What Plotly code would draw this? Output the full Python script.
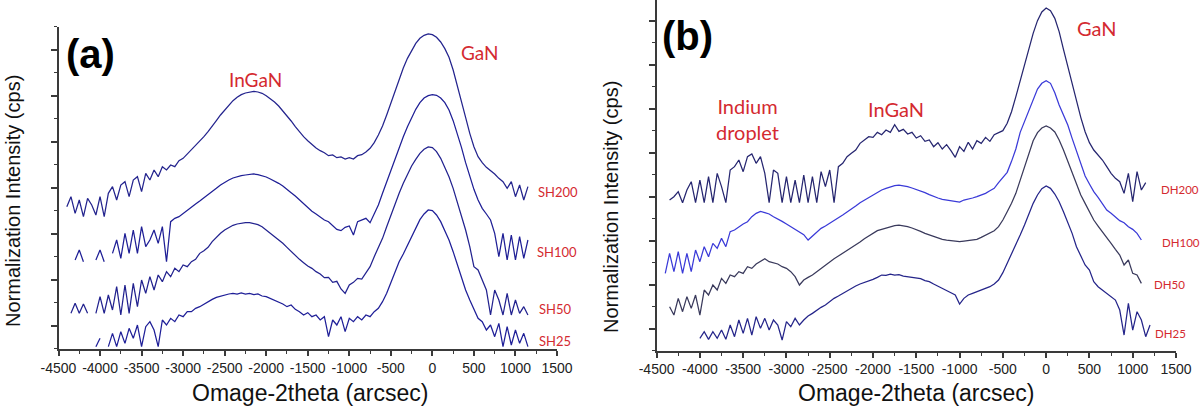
import plotly.graph_objects as go

# ---------------- data (arbitrary normalized intensity units, curves offset) ----------------
X_A = list(range(-4400, 1151, 50))   # omega-2theta grid, panel (a)
X_B = list(range(-4400, 1201, 50))   # omega-2theta grid, panel (b)

X_TICKS = [-4500, -4000, -3500, -3000, -2500, -2000, -1500, -1000, -500, 0, 500, 1000, 1500]
X_TICK_TEXT = ["-4500", "-4000", "-3500", "-3000", "-2500", "-2000", "-1500", "-1000",
               "-500", "0", "500", "1000", "1500"]

N = None

SH200 = [427, 457, 407, 447, 397, 452, 432, 402, 457, 397,
         467, 487, 447, 492, 502, 457, 507, 517, 472, 527,
         507, 537, 517, 547, 537, 552, 547, 565, 572, 585,
         597, 610, 622, 637, 652, 667, 685, 702, 717, 732,
         745, 755, 763, 768, 771, 773, 771, 767, 760, 751,
         741, 729, 715, 700, 684, 667, 651, 637, 625, 613,
         603, 595, 589, 580, 582, 574, 576, 570, 574, 570,
         580, 583, 591, 602, 619, 642, 669, 702, 737, 775,
         811, 843, 872, 897, 917, 932, 941, 945, 943, 935,
         921, 901, 875, 837, 792, 742, 695, 647, 607, 577,
         559, 545, 535, 525, 512, 502, 482, 502, 457, 492,
         447, 487]

SH100 = [N, N, 267, 297, 262, N, N, 267, 297, 262,
         N, 287, 327, 272, 347, 287, 357, 287, 367, 307,
         327, 357, 317, 367, 262, 382, 392, 397, 407, 417,
         425, 435, 444, 453, 462, 472, 482, 492, 500, 507,
         513, 517, 520, 522, 524, 525, 523, 520, 516, 510,
         504, 497, 489, 480, 469, 459, 447, 435, 425, 413,
         405, 395, 387, 382, 371, 359, 355, 365, 369, 342,
         382, 387, 392, 379, 407, 432, 467, 502, 537, 572,
         605, 637, 667, 695, 719, 739, 753, 760, 763, 761,
         753, 739, 717, 685, 647, 605, 559, 517, 479, 447,
         422, 405, 387, 347, 277, 347, 267, 342, 267, 337,
         272, 327, 277]

SH50 = [N, 107, 137, 107, 135, 107, N, 107, 157, 107,
        162, 117, 187, 102, 192, 107, 197, 127, 207, 167,
        217, 177, 222, 202, 232, 217, 242, 232, 252, 247,
        262, 269, 287, 295, 305, 322, 335, 347, 357, 365,
        371, 375, 378, 379, 379, 377, 373, 367, 357, 349,
        339, 329, 317, 305, 292, 282, 269, 259, 249, 242,
        232, 225, 214, 215, 200, 203, 180, 167, 192, 200,
        212, 210, 230, 247, 277, 302, 332, 367, 402, 435,
        467, 497, 525, 549, 569, 587, 599, 606, 604, 592,
        572, 547, 517, 482, 442, 402, 357, 307, 247, 237,
        207, 177, 102, 177, 147, 102, 167, 102, 147, 107,
        127, 102]

SH25 = [N, N, N, N, N, N, N, 7, 32, N,
        7, 47, 7, 52, 17, 62, 32, 72, 7, 67,
        82, 57, 7, 87, 72, 92, 82, 102, 97, 112,
        112, 122, 127, 135, 142, 149, 155, 159, 162, 165,
        167, 165, 168, 165, 167, 163, 165, 159, 157, 152,
        147, 142, 135, 127, 132, 119, 112, 102, 109, 97,
        102, 87, 97, 37, 87, 72, 97, 52, 92, 82,
        97, 87, 102, 97, 112, 122, 142, 167, 197, 232,
        262, 285, 310, 340, 365, 388, 405, 417, 415, 402,
        382, 357, 327, 292, 252, 212, 177, 147, 122, 92,
        82, 57, 72, 37, 77, 7, 67, 12, 57, 17,
        47, 7]

DH200 = [N, 452, 462, 477, 444, 482, 507, 444, 512, 444,
         522, 444, 532, 492, 444, 542, 552, 572, 537, 582,
         590, 562, 582, 532, 444, 542, 532, 444, 522, 444,
         512, 444, 527, 444, 522, 444, 537, 492, 542, 444,
         552, 562, 582, 592, 602, 622, 632, 642, 640, 655,
         648, 662, 655, 678, 658, 664, 650, 655, 638, 645,
         628, 632, 612, 624, 605, 618, 600, 580, 612, 598,
         625, 605, 630, 622, 640, 628, 648, 655, 660, 682,
         717, 762, 810, 857, 904, 952, 990, 1016, 1028, 1020,
         997, 957, 904, 852, 802, 750, 700, 657, 624, 602,
         587, 572, 552, 532, 517, 507, 472, 532, 447, 537,
         482, 504, N]

DH100 = [232, 292, 237, 297, 232, 292, 237, 302, 267, 312,
         282, 322, 307, 337, 312, 357, 362, 372, 380, 387,
         402, 412, 418, 414, 410, 402, 396, 388, 380, 372,
         364, 354, 348, 332, 344, 357, 367, 374, 382, 390,
         397, 407, 416, 424, 434, 444, 452, 460, 467, 475,
         482, 487, 492, 495, 497, 495, 492, 488, 484, 479,
         474, 468, 462, 458, 454, 452, 449, 448, 446, 452,
         454, 458, 462, 467, 472, 480, 487, 504, 520, 535,
         568, 605, 655, 688, 718, 752, 785, 802, 810, 802,
         774, 737, 707, 677, 637, 597, 557, 524, 500, 477,
         460, 442, 422, 412, 400, 390, 384, 372, 364, 352,
         332, N, N]

DH50 = [N, 132, 107, 157, 117, 162, 127, 167, 107, 182,
        167, 197, 182, 217, 202, 227, 222, 237, 232, 252,
        247, 260, 267, 276, 267, 264, 260, 252, 247, 237,
        222, 197, 212, 220, 227, 237, 247, 257, 267, 276,
        284, 292, 300, 308, 317, 326, 336, 344, 352, 360,
        364, 368, 372, 375, 377, 375, 372, 368, 364, 358,
        352, 347, 342, 338, 334, 332, 330, 328, 327, 329,
        330, 332, 334, 340, 347, 354, 360, 372, 392, 417,
        442, 472, 512, 557, 597, 630, 654, 668, 674, 668,
        656, 632, 602, 567, 532, 497, 467, 442, 417, 392,
        374, 357, 342, 322, 304, 287, 257, 272, 232, 227,
        202, N, N]

DH25 = [N, N, N, N, N, N, N, N,
        37, 57, 34, 57, 37, 62, 34, 77, 42, 92,
        52, 97, 47, 102, 67, 97, 62, 92, 77, 32,
        87, 72, 97, 77, 92, 104, 112, 122, 130, 137,
        147, 157, 164, 172, 180, 187, 194, 200, 204, 208,
        214, 220, 227, 226, 230, 227, 228, 224, 222, 220,
        217, 216, 210, 207, 200, 194, 187, 180, 174, 167,
        140, 157, 167, 172, 177, 182, 187, 192, 200, 212,
        234, 262, 287, 317, 347, 377, 412, 442, 467, 486,
        494, 487, 470, 447, 417, 387, 352, 312, 282, 257,
        242, 207, 192, 182, 172, 162, 152, 122, 47, 142,
        62, 117, 92, 42, 77]

SERIES_A = [("SH200", SH200), ("SH100", SH100), ("SH50", SH50), ("SH25", SH25)]
SERIES_B = [("DH200", DH200), ("DH100", DH100), ("DH50", DH50), ("DH25", DH25)]

# ---------------- styles ----------------
COLORS_A = {"SH200": "#24248e", "SH100": "#1f1f96", "SH50": "#22228f", "SH25": "#1f1f98"}
COLORS_B = {"DH200": "#262670", "DH100": "#3a3ad8", "DH50": "#3a3a5c", "DH25": "#25258a"}
RED = "#d42a30"
AX = "#3a3a3a"
ARIAL = "Arial, Liberation Sans, sans-serif"
LATO = "Lato, Open Sans, sans-serif"

fig = go.Figure()
for name, ys in SERIES_A:
    fig.add_trace(go.Scatter(x=X_A[:len(ys)], y=ys, mode="lines", name=name,
                             line=dict(color=COLORS_A[name], width=1.25),
                             xaxis="x", yaxis="y", showlegend=False, hoverinfo="skip"))
for name, ys in SERIES_B:
    fig.add_trace(go.Scatter(x=X_B[:len(ys)], y=ys, mode="lines", name=name,
                             line=dict(color=COLORS_B[name], width=1.25),
                             xaxis="x2", yaxis="y2", showlegend=False, hoverinfo="skip"))


def xaxis(domain, anchor):
    return dict(domain=domain, anchor=anchor, range=[-4500, 1500], automargin=False,
                tickmode="array", tickvals=X_TICKS, ticktext=X_TICK_TEXT,
                ticks="outside", ticklen=5, tickwidth=1.5, tickcolor=AX,
                showline=True, linecolor=AX, linewidth=2, showgrid=False, zeroline=False,
                tickfont=dict(family=ARIAL, size=14, color="#222"),
                minor=dict(tickmode="linear", tick0=-4500, dtick=250, ticks="outside",
                           ticklen=3, tickwidth=1.2, tickcolor=AX, showgrid=False))


def yaxis(domain, anchor, top, t0, dt):
    return dict(domain=domain, anchor=anchor, range=[0, top], automargin=False,
                tickmode="linear", tick0=t0, dtick=dt, showticklabels=False,
                ticks="outside", ticklen=6, tickwidth=1.5, tickcolor=AX,
                showline=True, linecolor=AX, linewidth=2, showgrid=False, zeroline=False,
                minor=dict(tickmode="linear", tick0=0, dtick=dt / 2, ticks="outside",
                           ticklen=3, tickwidth=1.2, tickcolor=AX, showgrid=False))


fig.update_layout(
    width=1200, height=406, autosize=False,
    margin=dict(l=0, r=0, t=0, b=0, pad=0),
    paper_bgcolor="white", plot_bgcolor="white",
    xaxis=xaxis([0.04875, 0.46417], "y"),
    yaxis=yaxis([0.14039, 0.93350], "x", 966, 69, 138),
    xaxis2=xaxis([0.54717, 0.98], "y2"),
    yaxis2=yaxis([0.13621, 1.0], "x2", 1052, 66, 132),
)


def note(text, x, y, size, color=RED, family=LATO, angle=0, bold=False):
    if bold:
        text = "<b>" + text + "</b>"
    fig.add_annotation(text=text, x=x, y=y, xref="paper", yref="paper",
                       xanchor="center", yanchor="middle", showarrow=False,
                       textangle=angle, font=dict(family=family, size=size, color=color))


# panel labels
note("(a)", 0.07583, 0.86700, 40, color="#000", family=ARIAL, bold=True)
note("(b)", 0.5725, 0.91010, 40, color="#000", family=ARIAL, bold=True)

# peak labels
note("InGaN", 0.21292, 0.80296, 19)
note("GaN", 0.4, 0.86946, 19)
note("Indium<br>droplet", 0.6225, 0.70690, 20)
note("InGaN", 0.7465, 0.73153, 20)
note("GaN", 0.91458, 0.93103, 20)

# sample labels
note("SH200", 0.465, 0.52709, 13)
note("SH100", 0.46417, 0.37931, 13)
note("SH50", 0.4625, 0.23892, 13)
note("SH25", 0.4625, 0.16010, 13)
note("DH200", 0.98333, 0.53202, 11.5)
note("DH100", 0.98375, 0.40394, 11.5)
note("DH50", 0.97417, 0.29803, 11.5)
note("DH25", 0.975, 0.17980, 11.5)

# axis titles
note("Omage-2theta (arcsec)", 0.25792, 0.03202, 23, color="#111", family=ARIAL)
note("Omage-2theta (arcsec)", 0.76308, 0.03202, 23, color="#111", family=ARIAL)
note("Normalization Intensity (cps)", 0.01083, 0.50493, 20, color="#111", family=ARIAL, angle=-90)
note("Normalization Intensity (cps)", 0.50917, 0.49015, 20, color="#111", family=ARIAL, angle=-90)

# page body without its default 8 px margin, so the figure fills the 1200x406 window
fig.write_html("out.html", config={"displayModeBar": False},
               post_script="document.body.style.margin='0';document.body.style.overflow='hidden';")
